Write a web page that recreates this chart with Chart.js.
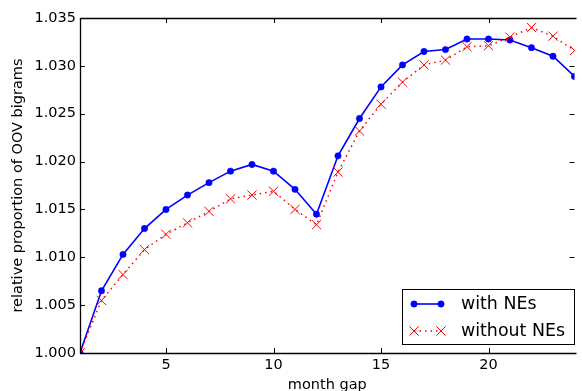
<!DOCTYPE html>
<html>
<head>
<meta charset="utf-8">
<script src="https://cdn.jsdelivr.net/npm/chart.js@4/dist/chart.umd.min.js"></script>
<style>
    html, body { margin: 0; padding: 0; background: #ffffff; }
    canvas { display: block; }
</style>
</head>
<body>
<canvas id="oovChart" width="582" height="391"></canvas>
<script>
// month gap (x) and relative proportion of OOV bigrams (y)
const months = [1, 2, 3, 4, 5, 6, 7, 8, 9, 10, 11, 12, 13, 14, 15, 16, 17, 18, 19, 20, 21, 22, 23, 24];
const withNEs = [1.0000, 1.0065, 1.0103, 1.0130, 1.0150, 1.0165, 1.0178, 1.0190, 1.0197, 1.0190, 1.0171, 1.0145,
                 1.0206, 1.0245, 1.0278, 1.0301, 1.0315, 1.0317, 1.0328, 1.0328, 1.0327, 1.0319, 1.0310, 1.0289];
const withoutNEs = [1.0000, 1.0055, 1.0082, 1.0108, 1.0124, 1.0136, 1.0148, 1.0161, 1.0165, 1.0169, 1.0150, 1.0134,
                    1.0189, 1.0232, 1.0260, 1.0283, 1.0301, 1.0306, 1.0320, 1.0321, 1.0330, 1.0340, 1.0331, 1.0316];
const xTicks = [5, 10, 15, 20];
const yTicks = [1.000, 1.005, 1.010, 1.015, 1.020, 1.025, 1.030, 1.035];

const FONT = 'DejaVu Sans';

// frame + inward tick marks, matplotlib style (right spine falls off the canvas)
const frameTicks = {
    id: 'frameTicks',
    afterDatasetsDraw(chart) {
        const { ctx, chartArea: a, scales } = chart;
        const len = 5;
        ctx.save();
        ctx.strokeStyle = '#000000';
        ctx.lineWidth = 1;
        ctx.beginPath();
        scales.x.ticks.forEach(t => {
            const px = Math.round(scales.x.getPixelForValue(t.value)) + 0.5;
            ctx.moveTo(px, a.bottom); ctx.lineTo(px, a.bottom - len);
            ctx.moveTo(px, a.top); ctx.lineTo(px, a.top + len);
        });
        scales.y.ticks.forEach(t => {
            const py = Math.round(scales.y.getPixelForValue(t.value)) + 0.5;
            ctx.moveTo(a.left, py); ctx.lineTo(a.left + len, py);
            ctx.moveTo(a.right, py); ctx.lineTo(a.right - len, py);
        });
        ctx.stroke();

        const l = Math.round(a.left) + 0.5, t = Math.round(a.top) + 0.5, b = Math.round(a.bottom) + 0.5;
        ctx.lineWidth = 1.3;
        ctx.beginPath();
        ctx.moveTo(a.right + 2, t); ctx.lineTo(l, t);
        ctx.lineTo(l, b); ctx.lineTo(a.right + 2, b);
        ctx.stroke();
        ctx.restore();
    }
};

// legend box in the lower right of the plot
const boxLegend = {
    id: 'boxLegend',
    afterDraw(chart) {
        const { ctx } = chart;
        const box = { x: 402, y: 289, w: 172, h: 55 };
        ctx.save();
        ctx.fillStyle = '#ffffff';
        ctx.fillRect(box.x, box.y, box.w, box.h);
        ctx.strokeStyle = '#000000';
        ctx.lineWidth = 1;
        ctx.strokeRect(box.x + 0.5, box.y + 0.5, box.w, box.h);

        chart.data.datasets.forEach((ds, i) => {
            const y = box.y + 15 + i * 27;
            const x0 = box.x + 12, x1 = box.x + 39;
            ctx.strokeStyle = ds.borderColor;
            ctx.lineWidth = ds.borderWidth;
            ctx.setLineDash(ds.borderDash || []);
            ctx.beginPath();
            ctx.moveTo(x0, y); ctx.lineTo(x1, y);
            ctx.stroke();
            ctx.setLineDash([]);
            [x0, x1].forEach(px => {
                ctx.fillStyle = ds.pointBackgroundColor;
                ctx.strokeStyle = ds.pointBorderColor;
                ctx.lineWidth = ds.pointBorderWidth;
                Chart.helpers.drawPoint(ctx, {
                    pointStyle: ds.pointStyle,
                    radius: ds.pointRadius,
                    borderWidth: ds.pointBorderWidth,
                    rotation: 0
                }, px, y);
            });
            ctx.fillStyle = '#000000';
            ctx.font = '17.4px "' + FONT + '"';
            ctx.textBaseline = 'middle';
            ctx.fillText(ds.label, box.x + 59, y);
        });
        ctx.restore();
    }
};

const ctx = document.getElementById('oovChart');
new Chart(ctx, {
    type: 'line',
    data: {
        datasets: [{
            label: 'with NEs',
            data: months.map((m, i) => ({ x: m, y: withNEs[i] })),
            borderColor: '#0000ff',
            backgroundColor: '#0000ff',
            borderWidth: 1.6,
            pointStyle: 'circle',
            pointRadius: 3.2,
            pointBackgroundColor: '#0000ff',
            pointBorderColor: '#0000ff',
            pointBorderWidth: 0.5,
            tension: 0,
            order: 1
        }, {
            label: 'without NEs',
            data: months.map((m, i) => ({ x: m, y: withoutNEs[i] })),
            borderColor: '#ff0000',
            backgroundColor: '#ff0000',
            borderWidth: 1.5,
            borderDash: [1.5, 4],
            pointStyle: 'crossRot',
            pointRadius: 6.5,
            pointBackgroundColor: '#ff0000',
            pointBorderColor: '#ff0000',
            pointBorderWidth: 1,
            tension: 0,
            order: 0
        }]
    },
    options: {
        responsive: false,
        devicePixelRatio: 1,
        animation: false,
        layout: { padding: { top: 18, right: 0, left: 0, bottom: 0 } },
        scales: {
            x: {
                type: 'linear',
                min: 1,
                max: 24,
                afterFit: (scale) => { scale.height = 38; },
                afterBuildTicks: (scale) => { scale.ticks = xTicks.map(v => ({ value: v })); },
                grid: { display: false, drawTicks: false },
                border: { display: false },
                ticks: {
                    color: '#000000',
                    padding: 4,
                    maxRotation: 0,
                    font: { family: FONT, size: 14.5 }
                },
                title: {
                    display: true,
                    text: 'month gap',
                    color: '#000000',
                    padding: { top: 0, bottom: 0 },
                    font: { family: FONT, size: 14.5, lineHeight: 0.85 }
                }
            },
            y: {
                type: 'linear',
                min: 1.0,
                max: 1.035,
                afterFit: (scale) => { scale.width = 80; },
                afterBuildTicks: (scale) => { scale.ticks = yTicks.map(v => ({ value: v })); },
                grid: { display: false, drawTicks: false },
                border: { display: false },
                ticks: {
                    color: '#000000',
                    padding: 4,
                    font: { family: FONT, size: 14.5 },
                    callback: (value) => value.toFixed(3)
                },
                title: {
                    display: true,
                    text: 'relative proportion of OOV bigrams',
                    color: '#000000',
                    padding: { top: 10, bottom: 0 },
                    font: { family: FONT, size: 14.5 }
                }
            }
        },
        plugins: {
            legend: { display: false },
            tooltip: { enabled: false }
        }
    },
    plugins: [frameTicks, boxLegend]
});
</script>
</body>
</html>
